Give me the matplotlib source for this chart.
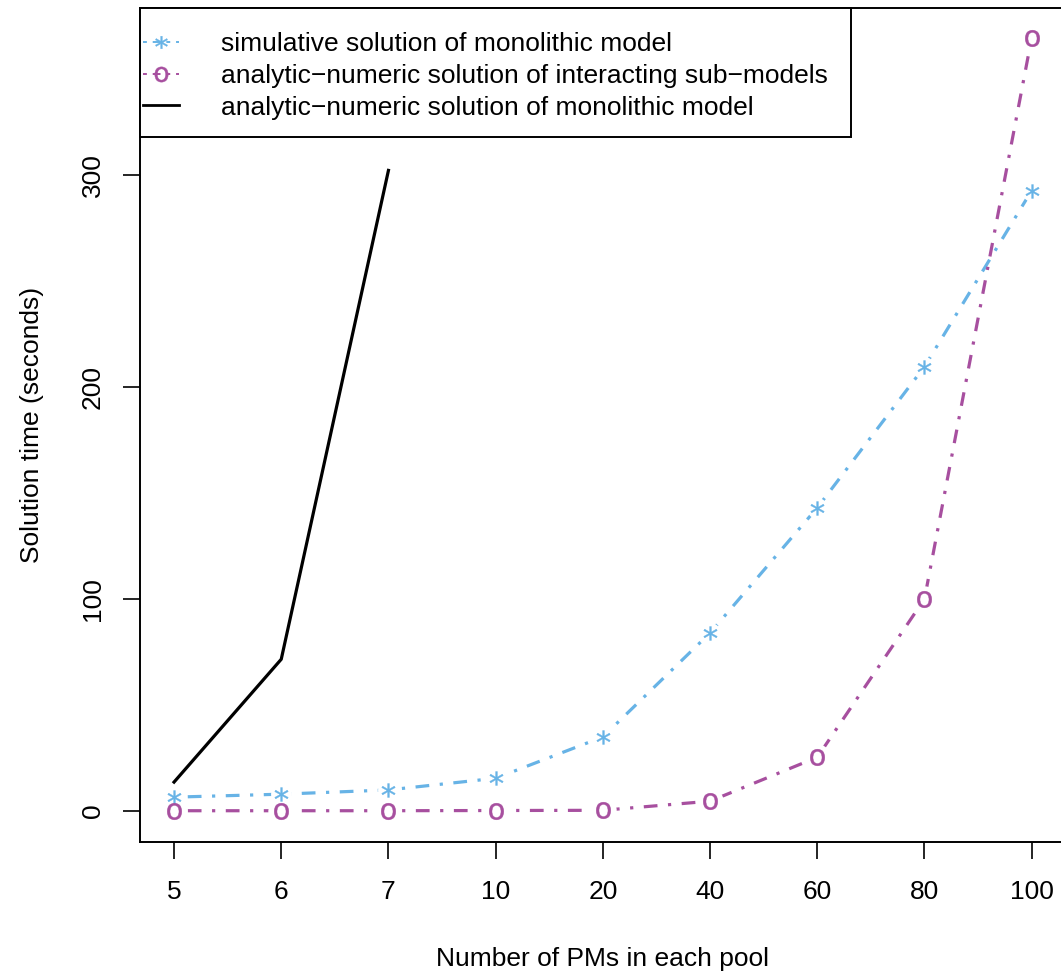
import matplotlib.pyplot as plt
from matplotlib.patches import Rectangle

# Data
pool_sizes = ['5', '6', '7', '10', '20', '40', '60', '80', '100']
sim_mono = [6.6, 8.0, 10.0, 15.5, 35.0, 84.0, 143.0, 209.5, 292.5]
ana_sub = [0.2, 0.2, 0.2, 0.3, 0.4, 4.7, 25.4, 100.0, 364.5]
ana_mono = [13.7, 71.6, 302.0]

blue = '#67B3E6'
purple = '#A74F9F'

plt.rcParams['font.family'] = ['Liberation Sans', 'DejaVu Sans']
fs = 19

fig = plt.figure(figsize=(10.61, 9.72), dpi=100)
ax = fig.add_axes([0.1317, 0.1337, 0.8730, 0.8581])

x = list(range(1, len(pool_sizes) + 1))
dotdash = (0, (1, 3.3, 4.3, 3.3))

# lines (R type="b": line broken around each point)
ax.plot(x, sim_mono, color=blue, lw=2.3, linestyle=dotdash, zorder=2)
ax.plot(x, ana_sub, color=purple, lw=2.3, linestyle=dotdash, zorder=2)
ax.plot(x[:3], ana_mono, color='black', lw=2.3, zorder=2)

# white blobs to leave gaps around the points
ax.plot(x, sim_mono, ls='none', marker='o', ms=15, mfc='white', mec='none', zorder=3)
ax.plot(x, ana_sub, ls='none', marker='o', ms=19, mfc='white', mec='none', zorder=3)

ax.plot(x, sim_mono, ls='none', color=blue, marker='$*$', ms=10, mew=0.3, zorder=4)
ax.plot(x, ana_sub, ls='none', color=purple, marker=r'$\mathrm{o}$', ms=12, mew=0.3, zorder=4)

ax.set_xlim(1 - 0.32, 9 + 0.32)
ax.set_ylim(-14.56, 378.56)
ax.set_xticks(x)
ax.set_xticklabels(pool_sizes)
ax.set_yticks([0, 100, 200, 300])
ax.set_yticklabels(['0', '100', '200', '300'], rotation=90, va='center')
ax.tick_params(axis='both', labelsize=fs, length=12, width=1.2)
ax.tick_params(axis='x', pad=15)
ax.tick_params(axis='y', pad=13)
for s in ax.spines.values():
    s.set_linewidth(1.4)

ax.set_xlabel('Number of PMs in each pool', fontsize=fs, labelpad=31)
ax.set_ylabel('Solution time (seconds)', fontsize=fs, labelpad=27)

# legend: box drawn separately, entries via proxy handles
ax.add_patch(Rectangle((0, 0.8453), 0.768, 0.1547, transform=ax.transAxes,
                       fill=True, facecolor='white', edgecolor='black',
                       lw=1.4, zorder=5, clip_on=False))
h1, = ax.plot([], [], color=blue, lw=1.4, linestyle=(0, (2, 3, 4, 3)),
              marker='$*$', ms=9, mew=0.3)
h2, = ax.plot([], [], color=purple, lw=1.4, linestyle=(0, (2, 3, 4, 3)),
              marker=r'$\mathrm{o}$', ms=11, mew=0.3)
h3, = ax.plot([], [], color='black', lw=2.0)
leg = ax.legend([h1, h2, h3],
                ['simulative solution of monolithic model',
                 'analytic\u2212numeric solution of interacting sub\u2212models',
                 'analytic\u2212numeric solution of monolithic model'],
                loc='center left', bbox_to_anchor=(0.004, 0.9185),
                fontsize=fs, frameon=False, borderpad=0, borderaxespad=0,
                handlelength=1.35, handletextpad=1.6, labelspacing=0.29)
leg.set_zorder(6)

plt.savefig('out.png', dpi=100)
